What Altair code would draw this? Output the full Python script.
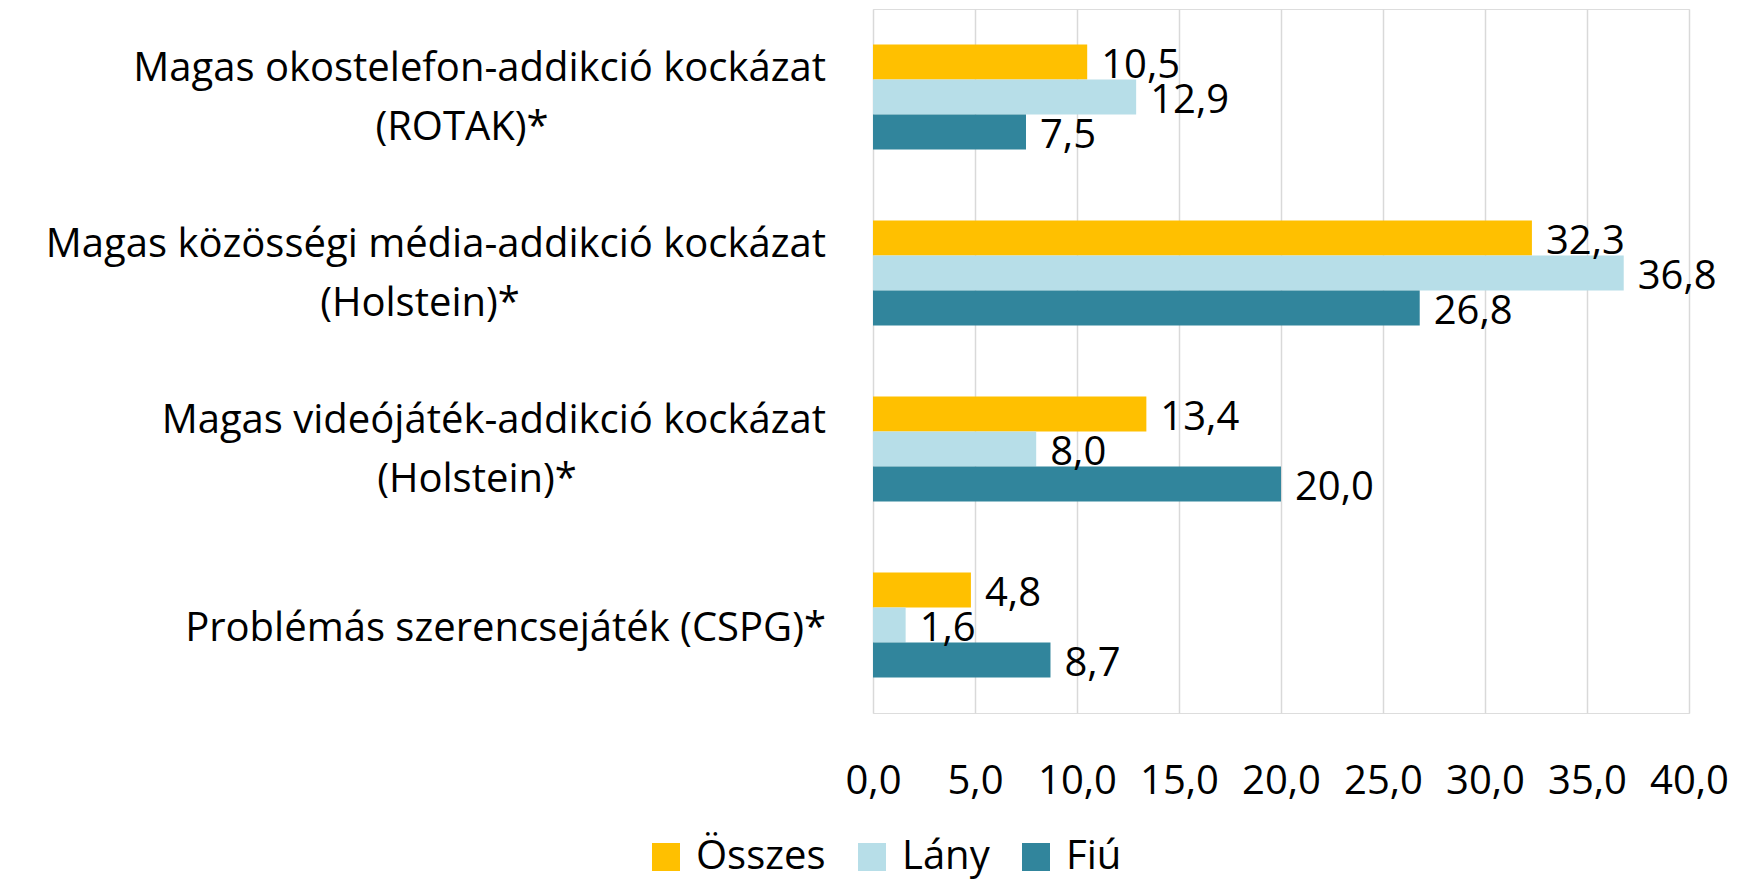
import altair as alt
import pandas as pd

# ---- data ----
cat_line1 = [
    "Magas okostelefon-addikció kockázat",
    "Magas közösségi média-addikció kockázat",
    "Magas videójáték-addikció kockázat",
    "Problémás szerencsejáték (CSPG)*",
]
cat_line2 = ["(ROTAK)*", "(Holstein)*", "(Holstein)*", ""]
series = ["Összes", "Lány", "Fiú"]
osszes = [10.5, 32.3, 13.4, 4.8]
lany = [12.9, 36.8, 8.0, 1.6]
fiu = [7.5, 26.8, 20.0, 8.7]
x_ticks = [0, 5, 10, 15, 20, 25, 30, 35, 40]
colors = ["#FFC000", "#B7DEE8", "#31859C"]

# ---- style constants (pixel offsets for the two-line category labels) ----
LINE1_RIGHT = -47
LINE2_CENTER = [-411, -453, -396, 0]
FONT = "Open Sans"
FS = 40

cats = [a + (" " + b if b else "") for a, b in zip(cat_line1, cat_line2)]

rows = []
for i, c in enumerate(cats):
    for s, vals in zip(series, [osszes, lany, fiu]):
        rows.append({"cat": c, "series": s, "value": vals[i]})
df = pd.DataFrame(rows)

lab = pd.DataFrame({"cat": cats, "l1": cat_line1, "l2": cat_line2,
                    "two": [1 if b else 0 for b in cat_line2]})

y_enc = alt.Y("cat:N", sort=cats,
              scale=alt.Scale(paddingInner=0.403, paddingOuter=0.2015),
              axis=None)
x_scale = alt.Scale(domain=[0, 40], nice=False, zero=True)

base = alt.Chart(df)

bars = base.mark_bar().encode(
    x=alt.X("value:Q", scale=x_scale,
            axis=alt.Axis(values=x_ticks, title=None, domain=False, ticks=False,
                          grid=True, gridColor="#D9D9D9", gridWidth=1.5,
                          labelFont=FONT, labelFontSize=FS, labelColor="black",
                          labelPadding=80, labelBaseline="alphabetic",
                          labelOverlap=False, labelFlush=False, labelBound=False,
                          labelExpr="replace(format(datum.value, '.1f'), '.', ',')")),
    y=y_enc,
    yOffset=alt.YOffset("series:N", sort=series,
                        scale=alt.Scale(paddingInner=0, paddingOuter=0)),
    color=alt.Color("series:N", sort=series,
                    scale=alt.Scale(domain=series, range=colors),
                    legend=alt.Legend(title=None, orient="none", legendX=-227, legendY=828,
                                      direction="horizontal", symbolType="square",
                                      symbolSize=784, symbolStrokeWidth=0,
                                      labelFont=FONT, labelFontSize=FS, labelColor="black",
                                      labelOffset=10, columnPadding=26, padding=0)),
)

values = base.transform_calculate(
    label="replace(format(datum.value, '.1f'), '.', ',')"
).mark_text(align="left", baseline="alphabetic", dx=14, dy=16,
            font=FONT, fontSize=FS, color="black").encode(
    x=alt.X("value:Q", scale=x_scale),
    y=y_enc,
    yOffset=alt.YOffset("series:N", sort=series,
                        scale=alt.Scale(paddingInner=0, paddingOuter=0)),
    text="label:N",
)

lab_base = alt.Chart(lab)
line1_two = lab_base.transform_filter("datum.two == 1").mark_text(
    align="right", baseline="alphabetic", dy=-16, font=FONT, fontSize=FS, color="black"
).encode(x=alt.value(LINE1_RIGHT), y=y_enc, text="l1:N")
line1_one = lab_base.transform_filter("datum.two == 0").mark_text(
    align="right", baseline="alphabetic", dy=16, font=FONT, fontSize=FS, color="black"
).encode(x=alt.value(LINE1_RIGHT), y=y_enc, text="l1:N")

layers = [bars, values, line1_two, line1_one]
for i, c in enumerate(cats):
    if cat_line2[i]:
        layers.append(
            lab_base.transform_filter(alt.datum.cat == c).mark_text(
                align="center", baseline="alphabetic", dy=43,
                font=FONT, fontSize=FS, color="black"
            ).encode(x=alt.value(LINE2_CENTER[i]), y=y_enc, text="l2:N")
        )

chart = alt.layer(*layers).properties(
    width=816, height=704,
    autosize=alt.AutoSizeParams(type="none"),
    padding={"left": 865, "top": 1, "right": 40, "bottom": 168},
).configure_view(stroke=None).configure(background="white")

chart.save("out.html", embed_options={"renderer": "svg", "actions": False})
